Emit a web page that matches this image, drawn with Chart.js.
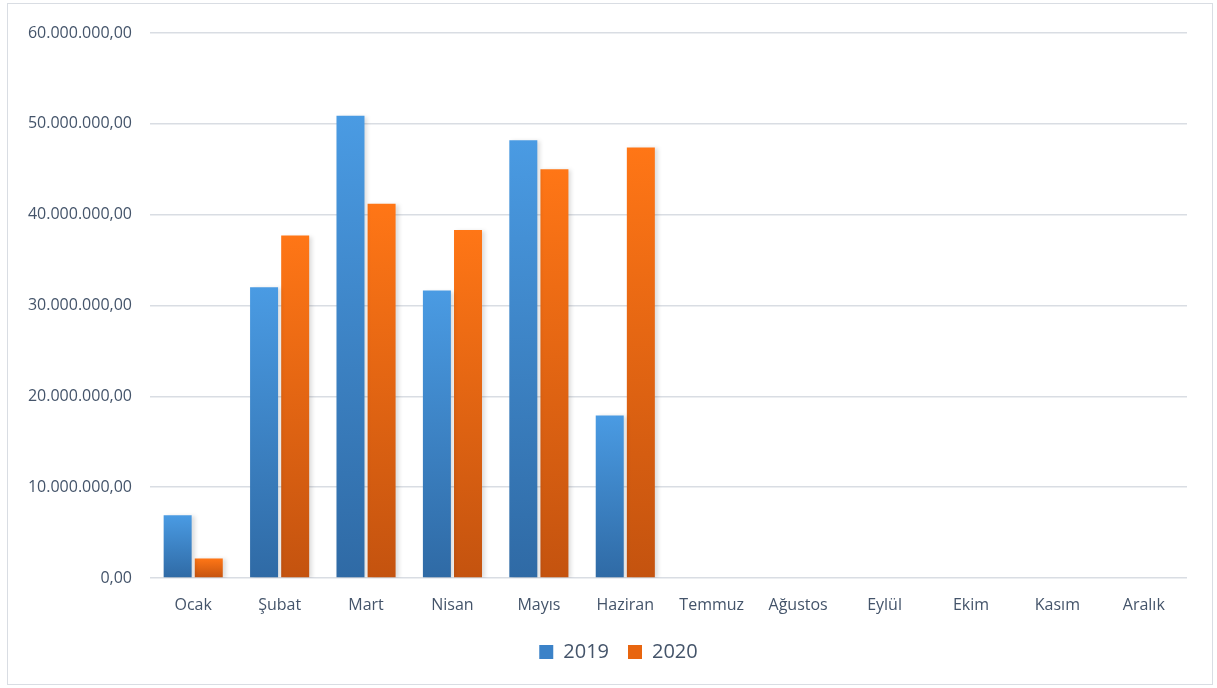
<!DOCTYPE html>
<html>
<head>
<meta charset="utf-8">
<script src="https://cdn.jsdelivr.net/npm/chart.js@4.4.1/dist/chart.umd.min.js"></script>
<style>
  html, body { margin: 0; padding: 0; background: #fff; }
  #wrap { position: relative; width: 1217px; height: 688px; }
  #frame { position: absolute; left: 7px; top: 3px; width: 1206px; height: 682px; border: 1px solid #d9dde3; box-sizing: border-box; }
  canvas { position: absolute; left: 0; top: 0; }
</style>
</head>
<body>
<div id="wrap">
  <div id="frame"></div>
  <canvas id="chart" width="1217" height="688"></canvas>
</div>
<script>
// aylar
const months = ['Ocak', 'Şubat', 'Mart', 'Nisan', 'Mayıs', 'Haziran', 'Temmuz', 'Ağustos', 'Eylül', 'Ekim', 'Kasım', 'Aralık'];
// yıllık değerler
const values2019 = [6900000, 32000000, 50900000, 31650000, 48200000, 17900000, null, null, null, null, null, null];
const values2020 = [2150000, 37700000, 41200000, 38300000, 45000000, 47400000, null, null, null, null, null, null];
const yTicks = [0, 10000000, 20000000, 30000000, 40000000, 50000000, 60000000];

const textColor = '#44546a';
const gridColor = '#d9dde3';
const fontFam = "'Open Sans', 'Noto Sans', sans-serif";

// 60000000 -> 60.000.000,00
function trFormat(v) {
    let s = Math.round(v).toString().replace(/\B(?=(\d{3})+(?!\d))/g, '.');
    return s + ',00';
}

function barGradient(topColor, bottomColor, solid) {
    return function (ctx) {
        const chart = ctx.chart;
        if (!chart.chartArea || ctx.raw == null) return solid;
        const y = chart.scales.y;
        const top = y.getPixelForValue(ctx.raw);
        const bottom = y.getPixelForValue(0);
        if (!isFinite(top) || !isFinite(bottom) || top === bottom) return solid;
        const g = chart.ctx.createLinearGradient(0, top, 0, bottom);
        g.addColorStop(0, topColor);
        g.addColorStop(1, bottomColor);
        return g;
    };
}

const barShadow = {
    id: 'barShadow',
    beforeDatasetsDraw(chart) {
        const c = chart.ctx;
        c.save();
        c.shadowColor = 'rgba(0,0,0,0.13)';
        c.shadowBlur = 4;
        c.shadowOffsetX = 3;
        c.shadowOffsetY = 1;
    },
    afterDatasetsDraw(chart) {
        chart.ctx.restore();
    }
};

// legend sits centred under the plot a bit to the right
const legendShift = {
    id: 'legendShift',
    afterLayout(chart) {
        if (chart.legend) {
            chart.legend.left += 25;
            chart.legend.right += 25;
        }
    }
};

new Chart(document.getElementById('chart'), {
    type: 'bar',
    data: {
        labels: months,
        datasets: [{
            label: '2019',
            data: values2019,
            backgroundColor: barGradient('#4a9be3', '#2f6aa5', '#3b82c8'),
            categoryPercentage: 0.72,
            barPercentage: 0.9
        }, {
            label: '2020',
            data: values2020,
            backgroundColor: barGradient('#ff7616', '#c4530f', '#e8650f'),
            categoryPercentage: 0.72,
            barPercentage: 0.9
        }]
    },
    options: {
        responsive: false,
        animation: false,
        layout: { padding: { top: 33, right: 30, bottom: 16, left: 0 } },
        plugins: {
            legend: {
                position: 'bottom',
                labels: {
                    color: textColor,
                    font: { family: fontFam, size: 20 },
                    boxWidth: 14,
                    boxHeight: 14,
                    padding: 19,
                    generateLabels(chart) {
                        const cols = ['#3b82c8', '#e8650f'];
                        return chart.data.datasets.map((ds, i) => ({
                            text: ds.label,
                            fillStyle: cols[i],
                            strokeStyle: cols[i],
                            lineWidth: 0,
                            fontColor: textColor,
                            datasetIndex: i
                        }));
                    }
                }
            },
            tooltip: { enabled: false }
        },
        scales: {
            x: {
                grid: { display: false },
                border: { display: false },
                ticks: {
                    color: textColor,
                    padding: 10,
                    font: { family: fontFam, size: 16 }
                },
                afterFit(s) { s.height = 45; }
            },
            y: {
                min: 0,
                max: 60000000,
                afterBuildTicks(s) { s.ticks = yTicks.map(v => ({ value: v })); },
                grid: { color: gridColor, lineWidth: 1.5, drawTicks: false },
                border: { display: false },
                ticks: {
                    color: textColor,
                    padding: 18,
                    font: { family: fontFam, size: 16 },
                    callback: v => trFormat(v)
                },
                afterFit(s) { s.width = 150; }
            }
        }
    },
    plugins: [barShadow, legendShift]
});
</script>
</body>
</html>
